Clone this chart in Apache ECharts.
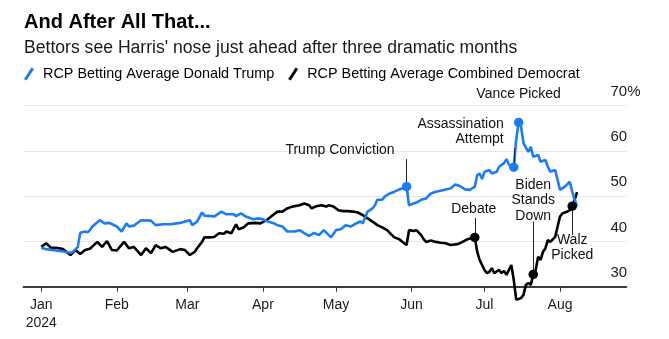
<!DOCTYPE html>
<html><head><meta charset="utf-8">
<script src="https://cdn.jsdelivr.net/npm/echarts@6/dist/echarts.min.js"></script>
<style>html,body{margin:0;padding:0;background:#fff}#c{width:669px;height:339px}</style>
</head><body><div id="c"></div>
<script>
const titleText = 'And After All That...';
const subtitleText = "Bettors see Harris' nose just ahead after three dramatic months";
const trumpName = 'RCP Betting Average Donald Trump';
const demName = 'RCP Betting Average Combined Democrat';

const tickDates = ['2024-01-01','2024-02-01','2024-03-01','2024-04-01','2024-05-01','2024-06-01','2024-07-01','2024-08-01'];
const tickLabels = ['Jan\n2024','Feb','Mar','Apr','May','Jun','Jul','Aug'];
const yTicks = [30, 40, 50, 60, 70];

const trumpDates = ['2024-01-01','2024-01-03','2024-01-07','2024-01-10','2024-01-13','2024-01-14','2024-01-16','2024-01-17','2024-01-19','2024-01-20','2024-01-21','2024-01-22','2024-01-25','2024-01-27','2024-01-29',
'2024-02-01','2024-02-03','2024-02-05','2024-02-06','2024-02-08','2024-02-11','2024-02-15','2024-02-17','2024-02-20','2024-02-23','2024-02-27','2024-02-29',
'2024-03-02','2024-03-03','2024-03-05','2024-03-07','2024-03-08','2024-03-11','2024-03-12','2024-03-15','2024-03-17','2024-03-20','2024-03-21','2024-03-23','2024-03-25','2024-03-28','2024-03-30',
'2024-04-01','2024-04-03','2024-04-05','2024-04-07','2024-04-09','2024-04-11','2024-04-14','2024-04-16','2024-04-20','2024-04-22','2024-04-24','2024-04-26','2024-04-29',
'2024-05-01','2024-05-03','2024-05-05','2024-05-07','2024-05-09','2024-05-11','2024-05-12','2024-05-14','2024-05-16','2024-05-17','2024-05-18','2024-05-20','2024-05-21','2024-05-23','2024-05-25','2024-05-27','2024-05-30','2024-05-31',
'2024-06-03','2024-06-05','2024-06-07','2024-06-09','2024-06-11','2024-06-13','2024-06-15','2024-06-17','2024-06-19','2024-06-21','2024-06-23','2024-06-25','2024-06-27','2024-06-28','2024-06-29','2024-06-30',
'2024-07-01','2024-07-03','2024-07-04','2024-07-06','2024-07-07','2024-07-09','2024-07-10','2024-07-11','2024-07-12','2024-07-13','2024-07-14','2024-07-15','2024-07-16','2024-07-17','2024-07-19','2024-07-20','2024-07-21','2024-07-23','2024-07-24','2024-07-26','2024-07-27','2024-07-28','2024-07-30','2024-07-31',
'2024-08-01','2024-08-03','2024-08-05','2024-08-06','2024-08-07','2024-08-08'];
const trumpValues = [38.6,38.3,38.0,37.8,37.5,37.7,38.8,41.9,42.2,42.0,42.5,43.3,44.7,44.0,44.1,
43.3,42.2,44.0,43.3,43.5,44.7,44.6,43.6,43.8,43.8,44.1,44.4,
44.7,43.6,44.4,46.4,45.7,45.6,45.5,46.6,46.0,46.0,45.6,46.2,45.5,44.9,45.1,
44.9,44.4,44.1,43.6,43.3,42.2,42.2,42.5,41.2,41.9,41.4,42.5,40.9,
42.5,42.7,43.6,43.3,43.9,44.4,44.0,46.6,47.3,48.0,49.2,49.2,49.9,50.6,51.0,51.5,52.1,48.0,
48.6,49.2,49.5,50.6,51.0,51.2,51.5,51.7,52.6,52.2,51.5,51.4,52.1,54.7,55.0,53.8,
55.4,55.8,55.0,55.4,56.5,57.3,58.2,57.0,56.5,56.4,62.5,66.3,65.4,61.7,59.8,60.9,58.7,59.1,57.6,58.0,56.5,55.4,55.8,53.6,
51.4,52.1,53.2,51.0,49.2,47.8];

const demDates = ['2024-01-01','2024-01-03','2024-01-05','2024-01-07','2024-01-10','2024-01-13','2024-01-15','2024-01-17','2024-01-19','2024-01-21','2024-01-24','2024-01-26','2024-01-28','2024-01-30',
'2024-02-01','2024-02-04','2024-02-06','2024-02-08','2024-02-11','2024-02-13','2024-02-15','2024-02-17','2024-02-19','2024-02-21','2024-02-24','2024-02-27','2024-02-29',
'2024-03-02','2024-03-04','2024-03-05','2024-03-07','2024-03-08','2024-03-10','2024-03-12','2024-03-14','2024-03-16','2024-03-17','2024-03-19','2024-03-21','2024-03-22','2024-03-24','2024-03-26','2024-03-29','2024-03-31',
'2024-04-03','2024-04-05','2024-04-07','2024-04-09','2024-04-11','2024-04-13','2024-04-16','2024-04-18','2024-04-20','2024-04-21','2024-04-23','2024-04-25','2024-04-27','2024-04-28','2024-04-30',
'2024-05-02','2024-05-04','2024-05-06','2024-05-08','2024-05-10','2024-05-12','2024-05-14','2024-05-16','2024-05-18','2024-05-20','2024-05-22','2024-05-24','2024-05-25','2024-05-27','2024-05-29','2024-05-30','2024-05-31',
'2024-06-02','2024-06-03','2024-06-05','2024-06-06','2024-06-07','2024-06-09','2024-06-11','2024-06-13','2024-06-15','2024-06-17','2024-06-20','2024-06-22','2024-06-24','2024-06-27','2024-06-28','2024-06-29','2024-06-30',
'2024-07-01','2024-07-02','2024-07-03','2024-07-04','2024-07-05','2024-07-07','2024-07-08','2024-07-09','2024-07-10','2024-07-12','2024-07-13','2024-07-14','2024-07-15','2024-07-16','2024-07-17','2024-07-18','2024-07-19','2024-07-20','2024-07-21','2024-07-22','2024-07-23','2024-07-24','2024-07-25','2024-07-26','2024-07-27','2024-07-28','2024-07-30','2024-07-31',
'2024-08-01','2024-08-02','2024-08-04','2024-08-05','2024-08-06','2024-08-07','2024-08-08'];
const demValues = [38.8,39.6,38.6,38.6,38.3,37.0,38.1,37.2,38.1,38.4,39.9,38.8,40.1,38.1,
38.0,39.9,38.5,38.8,37.0,38.5,37.4,39.2,38.5,38.8,37.7,38.3,38.1,
37.0,37.7,38.5,39.9,40.9,40.9,41.0,41.8,41.7,42.2,41.8,43.8,42.7,43.1,44.0,44.1,44.0,
44.9,45.8,46.6,46.6,47.3,47.7,48.0,48.4,48.0,47.3,47.8,48.0,47.7,48.0,47.7,
46.9,46.7,46.7,46.6,46.4,45.8,45.1,44.4,43.6,43.1,42.5,41.4,40.9,40.5,39.6,39.2,42.5,
42.3,42.5,41.4,40.5,39.9,40.2,39.9,39.7,39.6,39.2,39.4,39.9,40.5,40.9,37.7,35.9,34.8,
33.7,33.0,33.3,34.1,33.0,33.7,33.0,33.5,32.6,34.8,31.5,27.2,27.3,27.5,28.2,30.4,30.8,30.4,32.7,33.7,36.6,35.9,37.7,38.5,40.3,39.9,41.0,43.3,
45.5,46.2,46.6,46.9,47.8,49.2,50.9];

const eventNames = ['Trump Conviction','Assassination\nAttempt','Vance Picked','Debate','Biden\nStands\nDown','Walz\nPicked'];
const eventDates = ['2024-05-30','2024-07-13','2024-07-15','2024-06-27','2024-07-21','2024-08-06'];
const eventSeries = ['trump','trump','trump','dem','dem','dem'];

// layout of annotation leaders / labels (in axis units + pixel nudges)
const eventLayout = [
  {leaderTo: 58.2, textV: 60.2, dx: -12, align: 'right'},
  {leaderTo: 60.6, textV: 64.3, dx: -10, align: 'right'},
  {leaderTo: 70.5, textV: 72.6, dx: 0, align: 'center'},
  {leaderTo: 45.2, textV: 47.2, dx: -1, align: 'center'},
  {leaderTo: 44.4, textV: 49.1, dx: 0, align: 'center'},
  {leaderTo: 41.4, textV: 38.6, dx: 0, align: 'center'}
];

const FONT = '"Liberation Sans", Arial, Helvetica, sans-serif';
const BLUE = '#1b7cf6';
const BLACK = '#000000';

function ts(s){ const p = s.split('-').map(Number); return new Date(p[0], p[1]-1, p[2]).getTime(); }

const trumpData = trumpDates.map((d,i)=>[ts(d), trumpValues[i]]);
const demData = demDates.map((d,i)=>[ts(d), demValues[i]]);
function lookup(which, date){
  const ds = which==='trump'?trumpDates:demDates, vs = which==='trump'?trumpValues:demValues;
  return vs[ds.indexOf(date)];
}
const eventPoints = eventDates.map((d,i)=>({
  value:[ts(d), lookup(eventSeries[i], d)],
  itemStyle:{color: eventSeries[i]==='trump'?BLUE:BLACK, opacity:1}
}));
const leaderLines = eventDates.map((d,i)=>[
  {coord:[ts(d), lookup(eventSeries[i], d)]},
  {coord:[ts(d), eventLayout[i].leaderTo]}
]);
const tickTs = tickDates.map(ts);

const slash = 'path://M7.5,0 L10,1.6 L2.5,13 L0,11.4 Z';

const chart = echarts.init(document.getElementById('c'), null, {renderer:'canvas'});
chart.setOption({
  animation:false,
  backgroundColor:'#fff',
  textStyle:{fontFamily:FONT},
  title:[
    {text:titleText, left:24, top:12, padding:0, textStyle:{fontFamily:FONT, fontSize:20, fontWeight:'bold', color:'#000'}},
    {text:subtitleText, left:24, top:39, padding:0, textStyle:{fontFamily:FONT, fontSize:17.6, fontWeight:'normal', color:'#1a1a1a'}}
  ],
  legend:{
    left:24, top:67, padding:0, itemGap:14, itemWidth:10, itemHeight:13,
    textStyle:{fontFamily:FONT, fontSize:14.4, color:'#000', padding:[0,0,0,4]},
    data:[{name:trumpName, icon:slash},{name:demName, icon:slash}],
    selectedMode:false
  },
  grid:{left:23.3, right:42.5, top:105.7, bottom:52.3, containLabel:false},
  xAxis:{
    type:'value',
    min: new Date(2023,11,24,15).getTime(),
    max: new Date(2024,7,28,7).getTime(),
    axisLine:{show:true, lineStyle:{color:'#000', width:1.5}},
    axisTick:{show:true, customValues: tickTs, length:5, lineStyle:{color:'#333', width:1}},
    axisLabel:{show:true, customValues: tickTs,
      formatter:(v)=>{ const i = tickTs.indexOf(v); return i>=0?tickLabels[i]:''; },
      fontFamily:FONT, fontSize:14, color:'#1a1a1a', margin:9, lineHeight:18},
    splitLine:{show:false}
  },
  yAxis:{
    type:'value', position:'right', min:30, max:70, interval:10,
    axisLine:{show:false}, axisTick:{show:false},
    splitLine:{show:true, lineStyle:{color:'#e8e8e8', width:1}},
    axisLabel:{formatter:(v)=> v===yTicks[yTicks.length-1] ? v+'%' : String(v),
      margin:-16, align:'left', verticalAlign:'bottom', padding:[0,0,6,0], lineHeight:16,
      fontFamily:FONT, fontSize:15, color:'#1a1a1a'}
  },
  series:[
    {name:demName, type:'line', data:demData, showSymbol:false, symbol:'none', clip:false, z:2,
     lineStyle:{color:BLACK, width:2.6}, itemStyle:{color:BLACK}},
    {name:trumpName, type:'line', data:trumpData, showSymbol:false, symbol:'none', clip:false, z:3,
     lineStyle:{color:BLUE, width:2.6}, itemStyle:{color:BLUE}},
    {name:'events', type:'scatter', data:eventPoints, symbol:'circle', symbolSize:9.5, z:5, clip:false,
     itemStyle:{opacity:1},
     markLine:{silent:true, symbol:['none','none'], label:{show:false}, lineStyle:{color:'#222', width:1, type:'solid'},
       emphasis:{disabled:true}, data:leaderLines}}
  ]
});

const graphics = eventNames.map((name,i)=>{
  const L = eventLayout[i];
  const p = chart.convertToPixel({gridIndex:0}, [ts(eventDates[i]), L.textV]);
  return {type:'text', silent:true, z:10, x:p[0]+L.dx, y:p[1],
    style:{text:name, align:L.align, verticalAlign:'middle', fill:'#111', font:'14px '+FONT, lineHeight:15.5}};
});
chart.setOption({graphic:graphics});
</script></body></html>
